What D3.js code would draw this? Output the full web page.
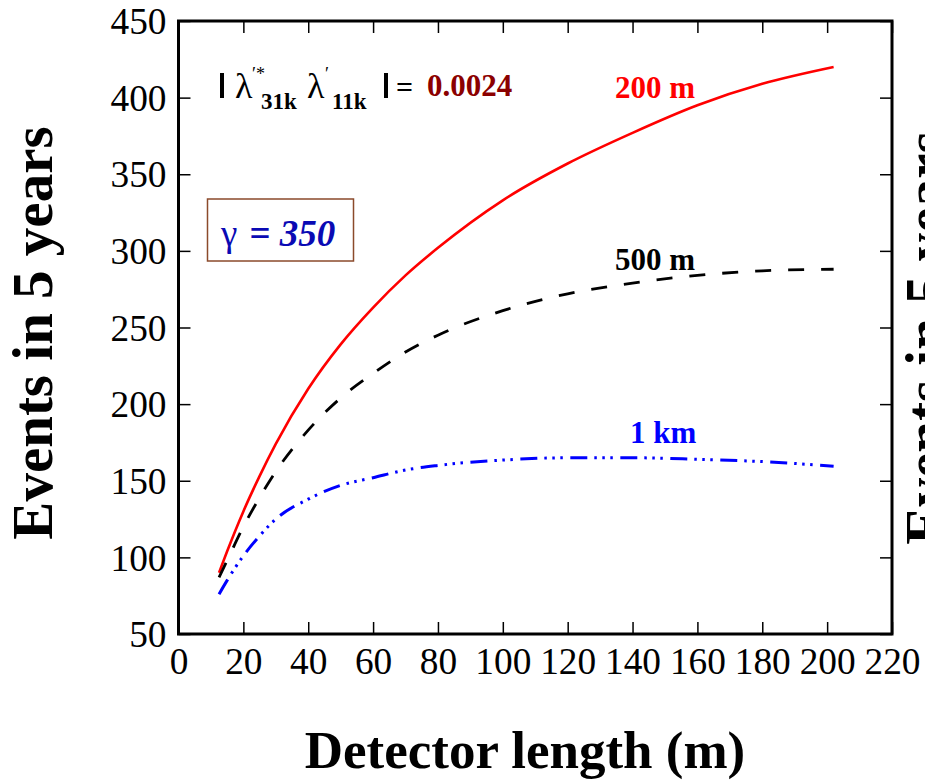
<!DOCTYPE html>
<html>
<head>
<meta charset="utf-8">
<script src="https://cdn.jsdelivr.net/npm/d3@7"></script>
<style>
  body { margin: 0; background: #fff; }
  svg { display: block; }
</style>
</head>
<body>
<div id="chart"></div>
<script>
// detector length (m) vs. events in 5 years, for three baselines
const lengths = [12.5, 15, 20, 25, 30, 40, 50, 60, 70, 80, 100, 120, 140, 160, 180, 202];
const events200m = [90, 104, 130, 153, 174, 210, 239, 263, 284, 302, 333, 357, 377, 395, 409, 420];
const events500m = [87, 98, 120, 139, 156, 183, 204, 220, 234, 245, 261, 272, 279, 284, 287, 288];
const events1km = [76, 85, 101, 114, 125, 138, 147, 152, 157, 160, 163.5, 165, 165, 164, 162.5, 159.5];

const xTicks = [0, 20, 40, 60, 80, 100, 120, 140, 160, 180, 200, 220];
const yTicks = [50, 100, 150, 200, 250, 300, 350, 400, 450];

const width = 925, height = 780;
const plot = { left: 178.5, right: 892, top: 21, bottom: 634 };

const serif = "'Liberation Serif', 'DejaVu Serif', serif";

const svg = d3.select('#chart').append('svg')
    .attr('width', width)
    .attr('height', height);

// pick a tick font size so "450" is about as wide as in the original
const probe = svg.append('text').attr('font-family', serif).attr('font-size', 40).text('450');
const tickSize = Math.min(38, 40 * 56 / probe.node().getComputedTextLength());
probe.remove();

const x = d3.scaleLinear().domain([0, 220]).range([plot.left, plot.right]);
const y = d3.scaleLinear().domain([50, 450]).range([plot.bottom, plot.top]);

// axes: ticks point inwards on all four sides
const axisBottom = svg.append('g')
    .attr('transform', `translate(0,${plot.bottom})`)
    .call(d3.axisBottom(x).tickValues(xTicks).tickSize(-12).tickPadding(13).tickFormat(d3.format('d')));
const axisTop = svg.append('g')
    .attr('transform', `translate(0,${plot.top})`)
    .call(d3.axisTop(x).tickValues(xTicks).tickSize(-12).tickFormat(''));
const axisLeft = svg.append('g')
    .attr('transform', `translate(${plot.left},0)`)
    .call(d3.axisLeft(y).tickValues(yTicks).tickSize(-12).tickPadding(12).tickFormat(d3.format('d')));
const axisRight = svg.append('g')
    .attr('transform', `translate(${plot.right},0)`)
    .call(d3.axisRight(y).tickValues(yTicks).tickSize(-12).tickFormat(''));

[axisBottom, axisTop, axisLeft, axisRight].forEach(g => {
    g.attr('font-family', serif).attr('font-size', tickSize);
    g.select('.domain').remove();
    g.selectAll('.tick line').attr('stroke', '#000').attr('stroke-width', 1.5);
    g.selectAll('.tick text').attr('fill', '#000');
});
axisLeft.selectAll('.tick text').attr('dy', '0.34em');

// frame
svg.append('rect')
    .attr('x', plot.left)
    .attr('y', plot.top)
    .attr('width', plot.right - plot.left)
    .attr('height', plot.bottom - plot.top)
    .attr('fill', 'none')
    .attr('stroke', '#000')
    .attr('stroke-width', 3);

// curves
const series = [
    { values: events200m, color: '#ff0000', dash: null, width: 2.6 },
    { values: events500m, color: '#000000', dash: '16,17', width: 2.8 },
    { values: events1km, color: '#0000ff', dash: '17,7,2.5,5.5,2.5,5.5,2.5,7.5', width: 3 }
];

const line = d3.line()
    .x(d => x(d[0]))
    .y(d => y(d[1]))
    .curve(d3.curveMonotoneX);

series.forEach(s => {
    svg.append('path')
        .datum(lengths.map((l, i) => [l, s.values[i]]))
        .attr('d', line)
        .attr('fill', 'none')
        .attr('stroke', s.color)
        .attr('stroke-width', s.width)
        .attr('stroke-dasharray', s.dash);
});

// curve labels
const curveLabels = [
    { text: '200 m', x: 615, y: 98, color: '#ff0000' },
    { text: '500 m', x: 615, y: 270, color: '#000000' },
    { text: '1 km', x: 630, y: 443, color: '#0000ff' }
];
curveLabels.forEach(l => {
    svg.append('text')
        .attr('x', l.x)
        .attr('y', l.y)
        .attr('fill', l.color)
        .attr('font-family', serif)
        .attr('font-weight', 'bold')
        .attr('font-size', 31)
        .text(l.text);
});

// coupling annotation
const ann = svg.append('g').attr('font-family', serif).attr('fill', '#000');
ann.append('rect').attr('x', 220).attr('y', 73).attr('width', 4).attr('height', 25);
ann.append('text').attr('x', 235).attr('y', 98).attr('font-size', 36).text('λ');
ann.append('text').attr('x', 252).attr('y', 80).attr('font-size', 18).text('′*');
ann.append('text').attr('x', 261).attr('y', 109).attr('font-size', 23).attr('font-weight', 'bold').text('31k');
ann.append('text').attr('x', 307).attr('y', 98).attr('font-size', 36).text('λ');
ann.append('text').attr('x', 325).attr('y', 80).attr('font-size', 18).text('′');
ann.append('text').attr('x', 332).attr('y', 109).attr('font-size', 23).attr('font-weight', 'bold').text('11k');
ann.append('rect').attr('x', 384).attr('y', 73).attr('width', 4).attr('height', 25);
ann.append('text').attr('x', 396).attr('y', 97).attr('font-size', 30).attr('font-weight', 'bold').text('=');
ann.append('text').attr('x', 427).attr('y', 96)
    .attr('fill', '#8b0000')
    .attr('font-size', 31)
    .attr('font-weight', 'bold')
    .text('0.0024');

// gamma box
svg.append('rect')
    .attr('x', 207.5)
    .attr('y', 199)
    .attr('width', 146)
    .attr('height', 62)
    .attr('fill', 'none')
    .attr('stroke', '#8b4a2b')
    .attr('stroke-width', 1.5);
const gam = svg.append('text')
    .attr('x', 221)
    .attr('y', 246)
    .attr('fill', '#0a0ab4')
    .attr('font-family', serif)
    .attr('font-size', 37);
gam.append('tspan').text('γ');
gam.append('tspan').attr('dx', 12).attr('font-weight', 'bold').attr('font-style', 'italic').text('= 350');

// axis titles
svg.append('text')
    .attr('x', 525)
    .attr('y', 768)
    .attr('text-anchor', 'middle')
    .attr('font-family', serif)
    .attr('font-weight', 'bold')
    .attr('font-size', 53)
    .text('Detector length (m)');

svg.append('text')
    .attr('transform', 'translate(52,333) rotate(-90)')
    .attr('text-anchor', 'middle')
    .attr('font-family', serif)
    .attr('font-weight', 'bold')
    .attr('font-size', 57)
    .text('Events in 5 years');

// neighbouring panel's title, cut off by the page edge
svg.append('text')
    .attr('transform', 'translate(945,338) rotate(-90)')
    .attr('text-anchor', 'middle')
    .attr('font-family', serif)
    .attr('font-weight', 'bold')
    .attr('font-size', 57)
    .text('Events in 5 years');
</script>
</body>
</html>
